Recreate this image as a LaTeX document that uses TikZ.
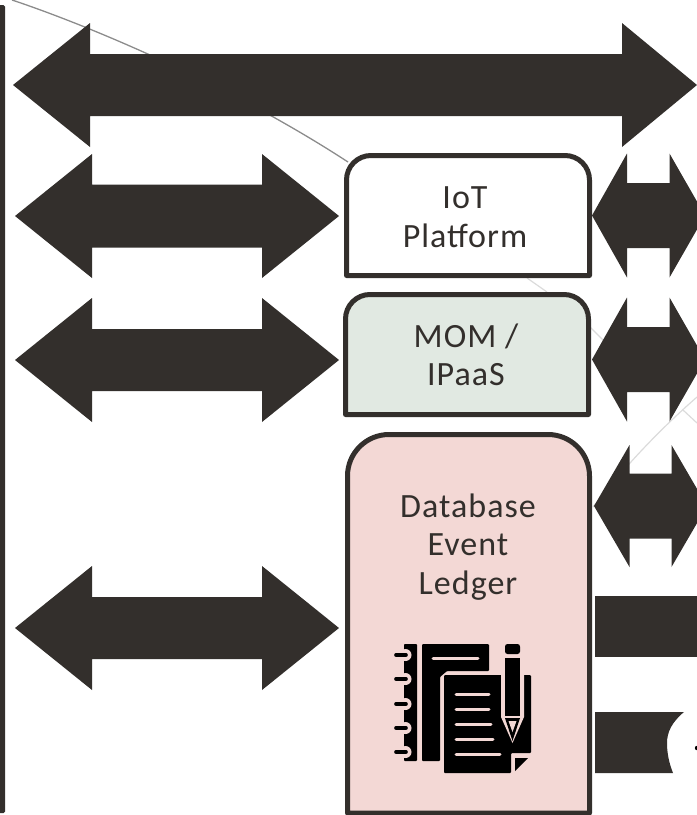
\documentclass[tikz,border=0pt]{standalone}
\usepackage{fontspec}
\setmainfont{Carlito}
\newfontfamily\handfont[LetterSpace=3]{Carlito}
\definecolor{ink}{HTML}{332F2C}
\definecolor{mom}{HTML}{E1E9E2}
\definecolor{dbfill}{HTML}{F3D8D5}
\tikzset{
  block/.style={fill=ink,draw=none},
  boxline/.style={draw=ink,line width=5pt,line join=round},
  label/.style={text=ink,font=\handfont\fontsize{34}{38.5}\selectfont,align=center,inner sep=0pt},
  farline/.style={draw=black!45,line width=1.3pt},
  faintline/.style={draw=black!14,line width=1.2pt},
  iconink/.style={fill=black,draw=none},
  iconcut/.style={draw=dbfill,line width=3pt,line cap=round}
}
% #1 left tip x, #2 left back x, #3 right back x, #4 right tip x, #5 centre y, #6 head half, #7 shaft half
\newcommand{\twoway}[7]{\fill[block] (#1,#5) -- (#2,#5-#6) -- (#2,#5-#7) -- (#3,#5-#7) -- (#3,#5-#6) -- (#4,#5) -- (#3,#5+#6) -- (#3,#5+#7) -- (#2,#5+#7) -- (#2,#5+#6) -- cycle;}
\begin{document}
\begin{tikzpicture}[x=1pt,y=-1pt]
\useasboundingbox (0,0) rectangle (697,815);
\clip (0,0) rectangle (697,815);
% background curves
\draw[farline] (12,0) .. controls (90,26) and (230,85) .. (348,162);
\draw[faintline] (527,278) -- (547,292) (590,327) -- (603,340) (683,410) -- (697,423);
\draw[faintline] (697,397) .. controls (665,425) and (630,460) .. (593,507);
% left rail
\fill[ink, rounded corners=1.5pt] (-3,5) rectangle (5,813);
% boxes
\draw[boxline,fill=white] (346.5,275.5) -- (346.5,180) arc[start angle=180,end angle=270,radius=24.5] -- (565,155.5) arc[start angle=270,end angle=360,radius=24.5] -- (589.5,275.5) -- cycle;
\draw[boxline,fill=mom] (345.5,414.5) -- (345.5,319) arc[start angle=180,end angle=270,radius=24.5] -- (564,294.5) arc[start angle=270,end angle=360,radius=24.5] -- (588.5,414.5) -- cycle;
\draw[boxline,fill=dbfill] (347.5,813) -- (347.5,476) arc[start angle=180,end angle=270,radius=41.5] -- (548,434.5) arc[start angle=270,end angle=360,radius=41.5] -- (589.5,813) -- cycle;
% arrows
\twoway{13}{90}{622}{697}{85}{62}{31}
\twoway{15}{92}{262}{339}{216}{62}{31.5}
\twoway{15}{92}{262}{339}{360}{62}{31}
\twoway{15}{92}{262}{339}{628}{62}{31}
\twoway{592}{627}{669.5}{705}{215.5}{62}{32.5}
\twoway{592}{627}{669.5}{705}{359.5}{62}{32.5}
\twoway{594}{629.5}{671.5}{707}{506}{61}{32.5}
\fill[block] (595,596) rectangle (697,657);
\fill[block] (595,712) -- (684,712) .. controls (672,722) and (667,732) .. (667,743) .. controls (667,753) and (669,763) .. (673,773) -- (595,773) -- cycle;
\fill[black] (697,748) circle[radius=2.2];
% labels
\node[label] (iot) at (465,217) {IoT\\Platform};
\node[label] (mom) at (466,355) {MOM /\\IPaaS};
\node[label] (db) at (468,547) {Database\\Event\\Ledger};
% ledger icon
\fill[iconink,rounded corners=0.8pt] (404,644) rectangle (417,761);
\foreach \ry in {655,679,704,728,752}{
  \fill[dbfill] (405.5,\ry) circle[radius=6];
  \draw[black,line width=3.6pt,line cap=round] (396,\ry) -- (406,\ry);
}
\fill[iconink,rounded corners=1pt] (422,644) -- (489,644) -- (489,671) -- (447,671) -- (440,677) -- (440,761) -- (422,761) -- cycle;
\draw[iconcut] (433,658) -- (478,658);
\fill[iconink,rounded corners=1pt] (444,675) -- (531,675) -- (531,753) -- (511,753) -- (511,773) -- (444,773) -- cycle;
\fill[dbfill] (501,670) -- (524,670) -- (524,717) -- (512.5,743) -- (501,717) -- cycle;
\fill[iconink] (515,758) -- (528,758) -- (515,771) -- cycle;
\foreach \ly/\lx in {694/489,709/489,724/491,739/493,754/500}{
  \draw[iconcut] (456,\ly) -- (\lx,\ly);
}
\fill[iconink,rounded corners=2.5pt] (505,654) -- (505,644) -- (520,644) -- (520,654) -- cycle;
\fill[iconink] (505,658) rectangle (520,716);
\fill[iconink] (505,718) -- (520,718) -- (512.5,741) -- cycle;
\fill[dbfill] (508.5,721) -- (516.5,721) -- (512.5,732) -- cycle;
\end{tikzpicture}
\end{document}
